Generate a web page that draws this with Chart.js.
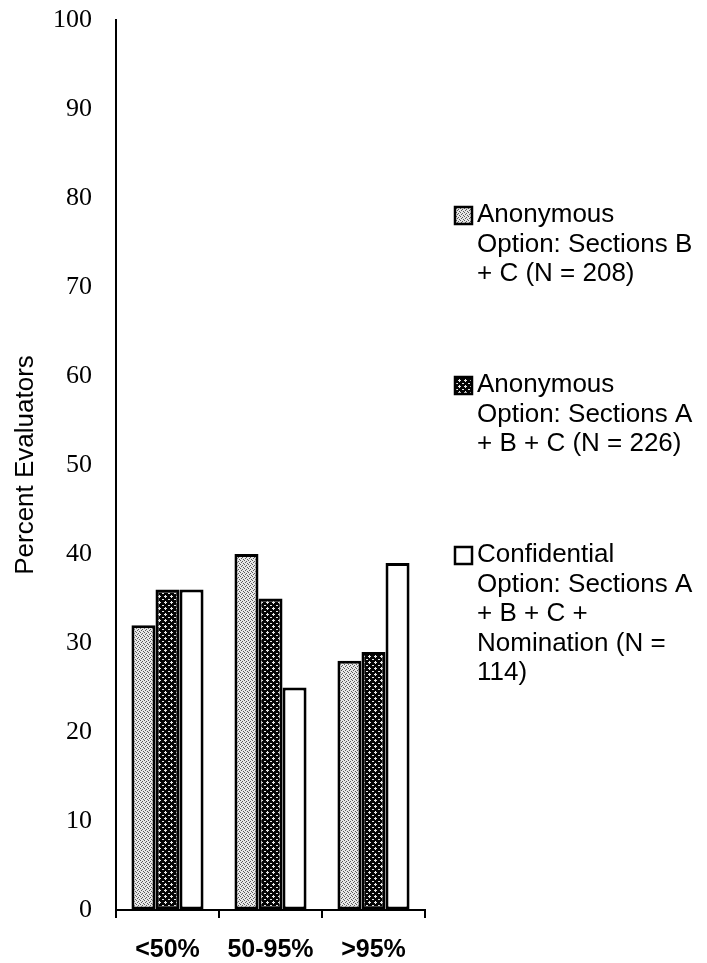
<!DOCTYPE html>
<html>
<head>
<meta charset="utf-8">
<script src="https://cdn.jsdelivr.net/npm/chart.js"></script>
<style>
  html, body { margin: 0; padding: 0; background: #fff; }
  #wrap { width: 707px; height: 963px; }
</style>
</head>
<body>
<div id="wrap"><canvas id="chart" width="707" height="963"></canvas></div>
<script>
const categories = ['<50%', '50-95%', '>95%'];
const anonBC = [32, 40, 28];
const anonABC = [36, 35, 29];
const confidential = [36, 25, 39];
const legendLines = [
    ['Anonymous', 'Option: Sections B', '+ C (N = 208)'],
    ['Anonymous', 'Option: Sections A', '+ B + C (N = 226)'],
    ['Confidential', 'Option: Sections A', '+ B + C +', 'Nomination (N =', '114)']
];
const yTitle = 'Percent Evaluators';

// small tiles to mimic the printed hatch fills
function makePattern(bg, fg, dots, size) {
    const c = document.createElement('canvas');
    c.width = size;
    c.height = size;
    const g = c.getContext('2d');
    g.fillStyle = bg;
    g.fillRect(0, 0, size, size);
    g.fillStyle = fg;
    dots.forEach(d => g.fillRect(d[0], d[1], 1, 1));
    return g.createPattern(c, 'repeat');
}

const stipple = makePattern('#e8e8e8', '#5a5a5a',
    [[0, 0], [2, 1], [1, 2], [3, 3]], 4);
const crossHatch = makePattern('#050505', '#e8e8e8',
    [[3, 1], [2, 2], [3, 2], [4, 2], [3, 3], [0, 5], [1, 5]], 6);

const legendPlugin = {
    id: 'sideLegend',
    afterDraw(chart) {
        const ctx = chart.ctx;
        const startY = [215, 385, 555];
        ctx.save();
        ctx.font = '26px "Liberation Sans", Arial, sans-serif';
        ctx.textBaseline = 'middle';
        chart.data.datasets.forEach((ds, i) => {
            const y0 = startY[i];
            ctx.fillStyle = ds.backgroundColor;
            ctx.fillRect(455, y0 - 8, 17, 17);
            ctx.strokeStyle = '#000';
            ctx.lineWidth = 2.5;
            ctx.strokeRect(455, y0 - 8, 17, 17);
            ctx.fillStyle = '#000';
            legendLines[i].forEach((line, j) => {
                ctx.fillText(line, 477, y0 + j * 29.5);
            });
        });
        ctx.restore();
    }
};

const ctx = document.querySelector('#chart').getContext('2d');
const chart = new Chart(ctx, {
    type: 'bar',
    data: {
        labels: categories,
        datasets: [{
            label: legendLines[0].join(' '),
            data: anonBC,
            backgroundColor: stipple,
        },
        {
            label: legendLines[1].join(' '),
            data: anonABC,
            backgroundColor: crossHatch,
        },
        {
            label: legendLines[2].join(' '),
            data: confidential,
            backgroundColor: '#ffffff',
        }]
    },
    options: {
        responsive: false,
        animation: false,
        layout: {
            padding: { top: 20, right: 282, left: 0, bottom: 0 }
        },
        datasets: {
            bar: {
                borderColor: '#000',
                borderWidth: 3,
                borderSkipped: false,
                categoryPercentage: 0.7,
                barPercentage: 1.0
            }
        },
        plugins: {
            legend: { display: false },
            tooltip: { enabled: false }
        },
        scales: {
            x: {
                afterFit: s => { s.height = 53; },
                grid: {
                    display: true,
                    drawOnChartArea: false,
                    drawTicks: true,
                    tickLength: 8,
                    color: '#000',
                    lineWidth: 2,
                    offset: true
                },
                border: { display: true, color: '#000', width: 2 },
                ticks: {
                    color: '#000',
                    padding: 17,
                    font: { family: '"Liberation Sans", Arial, sans-serif', size: 25, weight: 'bold' }
                }
            },
            y: {
                min: 0,
                max: 100,
                afterFit: s => { s.width = 116; },
                // invisible tick marks push the labels away from the axis
                grid: {
                    display: true,
                    drawOnChartArea: false,
                    drawTicks: true,
                    tickLength: 24,
                    color: 'rgba(0,0,0,0)'
                },
                border: { display: true, color: '#000', width: 2 },
                ticks: {
                    stepSize: 10,
                    color: '#000',
                    padding: 0,
                    font: { family: '"Liberation Serif", "Times New Roman", serif', size: 26 }
                },
                title: {
                    display: true,
                    text: yTitle,
                    color: '#000',
                    padding: { top: 13, bottom: 0 },
                    font: { family: '"Liberation Sans", Arial, sans-serif', size: 26, lineHeight: 1 }
                }
            }
        }
    },
    plugins: [legendPlugin]
});
</script>
</body>
</html>
